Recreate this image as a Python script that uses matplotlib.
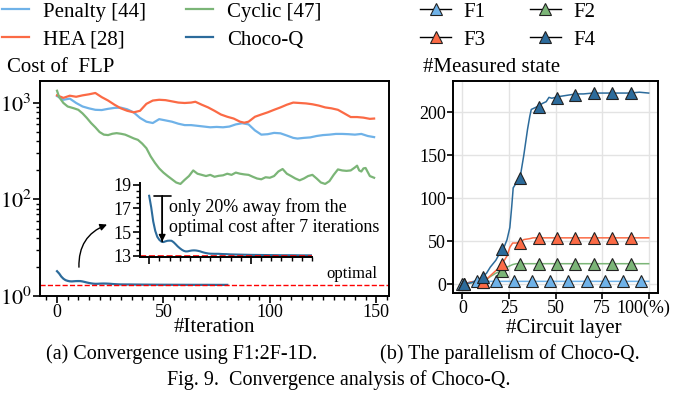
import numpy as np
import matplotlib
matplotlib.use("Agg")
import matplotlib.pyplot as plt
from matplotlib.lines import Line2D
from matplotlib.ticker import MultipleLocator, NullFormatter, FixedLocator
from matplotlib.transforms import ScaledTranslation

plt.rcParams["font.family"] = ["Liberation Serif", "DejaVu Serif"]
plt.rcParams["mathtext.fontset"] = "stix"

# --- colours ---
C_PEN = "#6fb2e8"
C_HEA = "#fb6a45"
C_CYC = "#7bb577"
C_CHO = "#2c6b9b"

# --- (a) convergence data ---
pen_it = [0, 3, 6, 9, 12, 15, 18, 21, 24, 27, 30, 33, 36, 39, 42, 45, 48, 51, 54, 57,
          60, 63, 66, 69, 72, 75, 78, 81, 84, 87, 90, 93, 96, 99, 102, 105, 108, 111,
          113, 116, 119, 122, 125, 128, 131, 134, 137, 140, 143, 146, 149]
pen_val = [1180, 1080, 1110, 1000, 920, 880, 850, 845, 870, 890, 895, 860, 800, 700,
           640, 620, 680, 660, 640, 610, 590, 590, 580, 570, 560, 565, 560, 570, 600,
           617, 600, 520, 470, 475, 490, 485, 460, 435, 428, 435, 440, 455, 465, 470,
           478, 478, 475, 470, 478, 455, 443]

hea_it = [0, 3, 6, 9, 12, 15, 18, 21, 24, 27, 30, 33, 36, 39, 42, 45, 48, 51, 54, 57,
          60, 63, 65, 68, 71, 74, 77, 80, 83, 86, 88, 90, 93, 96, 99, 102, 105, 108,
          111, 114, 117, 120, 123, 126, 129, 132, 135, 138, 141, 144, 147, 149]
hea_val = [1200, 1130, 1190, 1160, 1200, 1230, 1270, 1150, 1060, 960, 880, 830, 800,
           830, 980, 1060, 1080, 1070, 1040, 1010, 1000, 1010, 1030, 960, 900, 830, 760,
           720, 690, 640, 625, 640, 720, 760, 800, 850, 900, 960, 1010, 1000, 990, 970,
           940, 900, 880, 850, 780, 715, 715, 705, 685, 690]

cyc_it = [0, 1, 3, 5, 8, 10, 12, 14, 16, 18, 20, 22, 24, 26, 28, 30, 32, 34, 36, 38,
          40, 42, 44, 46, 48, 50, 52, 54, 56, 58, 60, 62, 64, 66, 68, 70, 72, 74, 76,
          78, 80, 82, 84, 86, 88, 90, 92, 94, 96, 98, 100, 102, 104, 106, 108, 110,
          112, 114, 116, 118, 120, 122, 124, 126, 128, 130, 132, 134, 136, 138, 140,
          141, 142, 143, 144, 145, 147, 149]
cyc_val = [1340, 1150, 1000, 920, 880, 850, 780, 700, 620, 560, 500, 470, 465, 480,
           487, 480, 470, 450, 430, 415, 380, 340, 280, 240, 210, 190, 175, 162, 150,
           145, 160, 175, 200, 185, 180, 175, 180, 172, 176, 178, 185, 180, 190, 185,
           182, 180, 172, 165, 162, 170, 168, 175, 195, 207, 185, 175, 165, 158, 165,
           175, 180, 165, 150, 145, 155, 180, 205, 200, 198, 200, 215, 224, 200, 195,
           210, 212, 175, 168]

cho_it = [0, 1, 2, 3, 4, 5, 6, 7, 8, 9, 10, 11, 12, 13, 14, 15, 16, 17, 18, 19, 20,
          21, 22, 23, 24, 25, 26, 27, 28, 29, 30, 32, 34, 36, 38, 40, 45, 50, 55, 60,
          65, 70, 75, 80]
cho_val = [18.07, 17.1, 15.9, 15.1, 14.6, 14.35, 14.2, 14.16, 14.22, 14.27, 14.28,
           14.27, 14.15, 13.98, 13.8, 13.65, 13.52, 13.42, 13.37, 13.38, 13.42, 13.45,
           13.46, 13.45, 13.42, 13.38, 13.32, 13.27, 13.23, 13.2, 13.18, 13.17, 13.17,
           13.15, 13.14, 13.12, 13.1, 13.08, 13.07, 13.06, 13.05, 13.05, 13.04, 13.04]
optimal_cost = 13

# --- (b) parallelism data ---
f1_x = [0, 3, 6, 100]
f1_y = [0, 2, 3.5, 3.5]
f2_x = [0, 5, 10, 12, 15, 18, 21, 23, 25, 27, 29, 100]
f2_y = [0, 2, 3, 4, 9, 13, 16, 19, 21, 23, 24, 24]
f3_x = [0, 5, 10, 12, 14, 16, 18, 20, 22, 24, 25.5, 27, 29, 31, 33, 36, 38, 40, 100]
f3_y = [0, 3, 3, 4, 8, 12, 16, 20, 26, 33, 43, 48, 48, 49, 52, 53, 54, 54, 54]
f4_x = [0, 5, 8, 11, 13, 15, 18, 20, 22, 24, 25.5, 26.5, 27.3, 29, 31, 33, 35, 36.2,
        37, 39, 41, 43, 45, 46.5, 48, 50, 52, 55, 58, 61, 65, 70, 75, 80, 85, 90, 95, 100]
f4_y = [0, 2, 5, 9, 13, 20, 28, 36, 41, 52, 66, 90, 112, 118, 124, 150, 180, 195,
        203, 205, 207, 210, 212, 217, 216, 217, 218, 219, 220, 221, 221, 222, 222, 222,
        222, 222, 223, 222]

f1_mx = [0, 8.1, 17.9, 27.7, 37.4, 47.2, 56.9, 66.7, 76.4, 86.2, 96.1]
f1_my = [0, 3.5, 3.5, 3.5, 3.5, 3.5, 3.5, 3.5, 3.5, 3.5, 3.5]
fx_m = [1, 11.3, 21.2, 31.2, 41.1, 50.8, 60.7, 70.4, 80.4, 90.3]
f2_my = [0, 3, 15.5, 24, 24, 24, 24, 24, 24, 24]
f3_my = [0, 3, 24, 48, 54, 54, 54, 54, 54, 54]
f4_my = [0, 9, 41, 124, 206, 216, 220, 222, 222, 222]

W, H = 674, 407
fig = plt.figure(figsize=(W / 100, H / 100), dpi=100)

def box(l, t, r, b):
    return [l / W, 1 - b / H, (r - l) / W, (b - t) / H]

FS = 15
CS = 14.5
TS = 13

# ---------------- (a) ----------------
ax = fig.add_axes(box(40, 81, 389, 296))
ax.plot(pen_it, pen_val, color=C_PEN, lw=1.6, label="Penalty [44]")
ax.plot(hea_it, hea_val, color=C_HEA, lw=1.6, label="HEA [28]")
ax.plot(cyc_it, cyc_val, color=C_CYC, lw=1.6, label="Cyclic [47]")
ax.plot(cho_it, cho_val, color=C_CHO, lw=1.6, label="Choco-Q")
ax.axhline(optimal_cost, color="red", ls="--", lw=1)
ax.set_yscale("log")
ax.set_ylim(10, 1690)
ax.set_xlim(-8, 156)
ax.yaxis.set_major_locator(FixedLocator([10, 100, 1000]))
ax.set_yticklabels([r"$10^0$", r"$10^2$", r"$10^3$"])
ax.yaxis.set_minor_formatter(NullFormatter())
ax.set_xticks([0, 50, 100, 150])
ax.xaxis.set_minor_locator(MultipleLocator(5))
ax.tick_params(axis="x", labelsize=TS, width=1.2, length=5, pad=1)
ax.tick_params(axis="y", labelsize=16, width=1.2, length=5, pad=1)
ax.tick_params(which="minor", width=1.0, length=3)
for s in ax.spines.values():
    s.set_linewidth(1.4)
ax.text(138.7, 16.8, "optimal", ha="center", va="center", fontsize=12)
ax.annotate("", xy=(23.5, 55), xytext=(10.3, 19.9),
            arrowprops=dict(arrowstyle="-|>", color="black", lw=1,
                            connectionstyle="arc3,rad=-0.35",
                            shrinkA=0, shrinkB=0, mutation_scale=10))

fig.text(7 / W, 1 - 67 / H, "Cost of  FLP", fontsize=FS, va="center")
fig.text(214 / W, 1 - 328 / H, "#Iteration", fontsize=FS, ha="center", va="center")
fig.legend(handles=ax.get_lines()[:4], loc="upper left",
           bbox_to_anchor=(0.0, 1.0), ncol=2, frameon=False, fontsize=FS,
           handlelength=1.3, handletextpad=0.67, columnspacing=1.9,
           labelspacing=0.4, borderpad=0.1, borderaxespad=0.0)

# inset
axi = fig.add_axes(box(140, 183, 312, 257))
axi.plot(cho_it, cho_val, color=C_CHO, lw=1.5)
axi.axhline(optimal_cost, color="red", ls="--", lw=1.2)
axi.set_xlim(-4.5, 80)
axi.set_ylim(12.9, 19.15)
axi.spines["top"].set_visible(False)
axi.spines["right"].set_visible(False)
for s in ("left", "bottom"):
    axi.spines[s].set_linewidth(1.4)
axi.set_yticks([13, 15, 17, 19])
axi.yaxis.set_minor_locator(MultipleLocator(0.5))
axi.set_xticks([0, 50])
axi.set_xticklabels([])
axi.xaxis.set_minor_locator(MultipleLocator(5))
axi.tick_params(labelsize=TS, width=1.2, length=5, pad=1)
axi.tick_params(which="minor", width=1.0, length=3)
axi.patch.set_alpha(0)
axi.annotate("", xy=(6.4, 14.2), xytext=(6.4, 18.05),
             arrowprops=dict(arrowstyle="-|>", color="black", lw=1,
                             shrinkA=0, shrinkB=0, mutation_scale=10))
axi.annotate("", xy=(6.4, 14.2), xytext=(6.4, 18.05),
             arrowprops=dict(arrowstyle="]-,widthA=0.6,lengthA=0", color="black", lw=1.2,
                             shrinkA=0, shrinkB=0))
fig.text(169 / W, 1 - 217 / H, "only 20% away from the\noptimal cost after 7 iterations",
         fontsize=13, va="center", ha="left", linespacing=1.15)

# ---------------- (b) ----------------
bx = fig.add_axes(box(453, 81, 658, 293))
series = [(f1_x, f1_y, f1_mx, f1_my, C_PEN),
          (f2_x, f2_y, fx_m, f2_my, C_CYC),
          (f3_x, f3_y, fx_m, f3_my, C_HEA),
          (f4_x, f4_y, fx_m, f4_my, C_CHO)]
for lx, ly, mx, my, c in series:
    bx.plot(lx, ly, color=c, lw=1.1, zorder=2)
for lx, ly, mx, my, c in series:
    bx.plot(mx, my, ls="none", marker="^", ms=9, mfc=c, mec="#222222", mew=0.8, zorder=3)
bx.set_xlim(-5, 105)
bx.set_ylim(-10, 236)
bx.set_xticks([0, 25, 50, 75, 100])
bx.set_xticklabels(["0", "25", "50", "75", "100(%)"])
bx.set_yticks([0, 50, 100, 150, 200])
bx.grid(True, color="#e3e3e3", lw=1)
bx.set_axisbelow(True)
bx.tick_params(labelsize=TS, width=1.2, length=4, pad=1)
for s in bx.spines.values():
    s.set_linewidth(1.4)
last = bx.get_xticklabels()[-1]
last.set_transform(last.get_transform() + ScaledTranslation(-5 / 100, 0, fig.dpi_scale_trans))
fig.text(423 / W, 1 - 67 / H, "#Measured state", fontsize=FS, va="center")
fig.text(564 / W, 1 - 328 / H, "#Circuit layer", fontsize=FS, ha="center", va="center")

leg_handles = [Line2D([], [], color="black", lw=1, marker="^", ms=9, mfc=c, mec="#222222", mew=0.8)
               for c in (C_PEN, C_HEA, C_CYC, C_CHO)]
fig.legend(handles=leg_handles, labels=["F1", "F3", "F2", "F4"], loc="upper left",
           bbox_to_anchor=(418 / W, 1.0), ncol=2, frameon=False, fontsize=FS,
           handlelength=1.5, handletextpad=0.6, columnspacing=2.1,
           labelspacing=0.4, borderpad=0.1, borderaxespad=0.0)

# captions
fig.text(182 / W, 1 - 354 / H, "(a) Convergence using F1:2F-1D.", fontsize=CS,
         ha="center", va="center")
fig.text(510 / W, 1 - 354 / H, "(b) The parallelism of Choco-Q.", fontsize=CS,
         ha="center", va="center")
fig.text(339 / W, 1 - 380 / H, "Fig. 9.  Convergence analysis of Choco-Q.", fontsize=CS,
         ha="center", va="center")

fig.savefig("out.png", dpi=100)
